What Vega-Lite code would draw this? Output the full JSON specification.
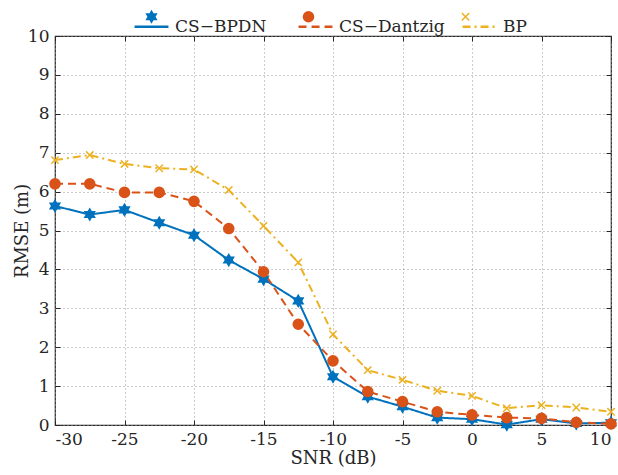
{
  "$schema": "https://vega.github.io/schema/vega-lite/v6.json",
  "width": 556,
  "height": 389,
  "autosize": {"type": "none"},
  "padding": {"left": 55, "top": 36, "right": 7, "bottom": 50},
  "background": "white",
  "config": {
    "font": "DejaVu Serif",
    "view": {"stroke": "#262626", "strokeWidth": 1.2},
    "axis": {
      "domain": false,
      "ticks": false,
      "labelFont": "DejaVu Serif",
      "labelFontSize": 17,
      "labelColor": "#262626",
      "titleFont": "DejaVu Serif",
      "titleFontSize": 18,
      "titleFontWeight": "normal",
      "titleColor": "#262626",
      "tickColor": "#262626",
      "tickSize": 5,
      "tickWidth": 1,
      "gridColor": "#999999",
      "gridDash": [1, 3],
      "gridWidth": 1
    },
    "legend": {
      "labelFont": "DejaVu Serif",
      "labelFontSize": 17,
      "labelColor": "#262626",
      "titleFontSize": 1,
      "titleOpacity": 0,
      "titleOrient": "left",
      "titlePadding": 0,
      "orient": "none",
      "direction": "horizontal",
      "gridAlign": "all",
      "legendY": -28
    }
  },
  "data": {
    "values": [
      {"snr": -30, "method": "CS−BPDN", "rmse": 5.63},
      {"snr": -27.5, "method": "CS−BPDN", "rmse": 5.41},
      {"snr": -25, "method": "CS−BPDN", "rmse": 5.53},
      {"snr": -22.5, "method": "CS−BPDN", "rmse": 5.2},
      {"snr": -20, "method": "CS−BPDN", "rmse": 4.88},
      {"snr": -17.5, "method": "CS−BPDN", "rmse": 4.24},
      {"snr": -15, "method": "CS−BPDN", "rmse": 3.75},
      {"snr": -12.5, "method": "CS−BPDN", "rmse": 3.19},
      {"snr": -10, "method": "CS−BPDN", "rmse": 1.24},
      {"snr": -7.5, "method": "CS−BPDN", "rmse": 0.73},
      {"snr": -5, "method": "CS−BPDN", "rmse": 0.47},
      {"snr": -2.5, "method": "CS−BPDN", "rmse": 0.19},
      {"snr": 0, "method": "CS−BPDN", "rmse": 0.15},
      {"snr": 2.5, "method": "CS−BPDN", "rmse": 0.01},
      {"snr": 5, "method": "CS−BPDN", "rmse": 0.15},
      {"snr": 7.5, "method": "CS−BPDN", "rmse": 0.04},
      {"snr": 10, "method": "CS−BPDN", "rmse": 0.06},
      {"snr": -30, "method": "CS−Dantzig", "rmse": 6.2},
      {"snr": -27.5, "method": "CS−Dantzig", "rmse": 6.2},
      {"snr": -25, "method": "CS−Dantzig", "rmse": 5.98},
      {"snr": -22.5, "method": "CS−Dantzig", "rmse": 5.98},
      {"snr": -20, "method": "CS−Dantzig", "rmse": 5.75},
      {"snr": -17.5, "method": "CS−Dantzig", "rmse": 5.05},
      {"snr": -15, "method": "CS−Dantzig", "rmse": 3.94},
      {"snr": -12.5, "method": "CS−Dantzig", "rmse": 2.59},
      {"snr": -10, "method": "CS−Dantzig", "rmse": 1.65},
      {"snr": -7.5, "method": "CS−Dantzig", "rmse": 0.86},
      {"snr": -5, "method": "CS−Dantzig", "rmse": 0.6},
      {"snr": -2.5, "method": "CS−Dantzig", "rmse": 0.34},
      {"snr": 0, "method": "CS−Dantzig", "rmse": 0.26},
      {"snr": 2.5, "method": "CS−Dantzig", "rmse": 0.19},
      {"snr": 5, "method": "CS−Dantzig", "rmse": 0.17},
      {"snr": 7.5, "method": "CS−Dantzig", "rmse": 0.07},
      {"snr": 10, "method": "CS−Dantzig", "rmse": 0.03},
      {"snr": -30, "method": "BP", "rmse": 6.81},
      {"snr": -27.5, "method": "BP", "rmse": 6.94},
      {"snr": -25, "method": "BP", "rmse": 6.71},
      {"snr": -22.5, "method": "BP", "rmse": 6.6},
      {"snr": -20, "method": "BP", "rmse": 6.57},
      {"snr": -17.5, "method": "BP", "rmse": 6.04},
      {"snr": -15, "method": "BP", "rmse": 5.12},
      {"snr": -12.5, "method": "BP", "rmse": 4.18},
      {"snr": -10, "method": "BP", "rmse": 2.33},
      {"snr": -7.5, "method": "BP", "rmse": 1.41},
      {"snr": -5, "method": "BP", "rmse": 1.16},
      {"snr": -2.5, "method": "BP", "rmse": 0.88},
      {"snr": 0, "method": "BP", "rmse": 0.75},
      {"snr": 2.5, "method": "BP", "rmse": 0.43},
      {"snr": 5, "method": "BP", "rmse": 0.51},
      {"snr": 7.5, "method": "BP", "rmse": 0.45},
      {"snr": 10, "method": "BP", "rmse": 0.34}
    ]
  },
  "encoding": {
    "x": {"field": "snr", "type": "quantitative", "scale": {"domain": [-30, 10], "nice": false, "zero": false}},
    "y": {"field": "rmse", "type": "quantitative", "scale": {"domain": [0, 10], "nice": false}}
  },
  "layer": [
    {
      "mark": {"type": "line", "strokeWidth": 2},
      "encoding": {
        "x": {"field": "snr", "type": "quantitative", "title": "SNR (dB)",
              "axis": {"values": [-30, -25, -20, -15, -10, -5, 0, 5, 10], "labelExpr": "toString(datum.value)", "labelPadding": 6, "titlePadding": 2, "grid": true}},
        "y": {"field": "rmse", "type": "quantitative", "title": "RMSE (m)",
              "axis": {"values": [0, 1, 2, 3, 4, 5, 6, 7, 8, 9, 10], "labelPadding": 6, "titleX": -24, "grid": true}},
        "stroke": {"field": "method", "type": "nominal", "title": "lines",
                  "scale": {"domain": ["CS−BPDN", "CS−Dantzig", "BP"], "range": ["#0072BD", "#D95319", "#EDB120"]},
                  "legend": {"legendX": 75, "symbolType": "stroke", "symbolSize": 1150, "symbolStrokeWidth": 2.5, "columnPadding": 12, "labelOffset": 5}},
        "strokeDash": {"field": "method", "type": "nominal", "title": "lines",
                  "scale": {"domain": ["CS−BPDN", "CS−Dantzig", "BP"], "range": [[1, 0], [8, 5], [8, 4, 2, 4]]}}
      }
    },
    {
      "mark": {"type": "point", "filled": true, "opacity": 1},
      "encoding": {
        "x": {"field": "snr", "type": "quantitative", "axis": null},
        "y": {"field": "rmse", "type": "quantitative", "axis": null},
        "fill": {"field": "method", "type": "nominal", "title": "marks", "sort": null,
                  "scale": {"range": ["#0072BD", "#D95319", "#EDB120"]},
                  "legend": {"legendX": 75, "columnPadding": 12, "labelOffset": 13, "symbolOffset": 9, "labelColor": "rgba(0,0,0,0)", "symbolStrokeWidth": 0}},
        "shape": {"field": "method", "type": "nominal", "title": "marks", "sort": null,
                  "scale": {"range": [
                    "M0,-1L0.289,-0.5L0.866,-0.5L0.577,0L0.866,0.5L0.289,0.5L0,1L-0.289,0.5L-0.866,0.5L-0.577,0L-0.866,-0.5L-0.289,-0.5Z",
                    "circle",
                    "M-0.75,-1L0,-0.25L0.75,-1L1,-0.75L0.25,0L1,0.75L0.75,1L0,0.25L-0.75,1L-1,0.75L-0.25,0L-1,-0.75Z"]}},
        "size": {"field": "method", "type": "nominal", "title": "marks", "sort": null,
                 "scale": {"range": [200, 70, 85]}}
      }
    },
    {
      "mark": {"type": "point", "opacity": 0},
      "encoding": {
        "x": {"field": "snr", "type": "quantitative",
              "axis": {"orient": "top", "offset": -389, "ticks": true, "values": [-30, -25, -20, -15, -10, -5, 0, 5, 10], "labels": false, "title": null, "grid": false}},
        "y": {"field": "rmse", "type": "quantitative",
              "axis": {"orient": "right", "offset": -556, "ticks": true, "values": [0, 1, 2, 3, 4, 5, 6, 7, 8, 9, 10], "labels": false, "title": null, "grid": false}}
      }
    },
    {
      "mark": {"type": "point", "opacity": 0},
      "encoding": {
        "x": {"field": "snr", "type": "quantitative",
              "axis": {"orient": "bottom", "offset": -389, "ticks": true, "values": [-30, -25, -20, -15, -10, -5, 0, 5, 10], "labels": false, "title": null, "grid": false}},
        "y": {"field": "rmse", "type": "quantitative",
              "axis": {"orient": "left", "offset": -556, "ticks": true, "values": [0, 1, 2, 3, 4, 5, 6, 7, 8, 9, 10], "labels": false, "title": null, "grid": false}}
      }
    }
  ],
  "resolve": {"axis": {"x": "independent", "y": "independent"}}
}
